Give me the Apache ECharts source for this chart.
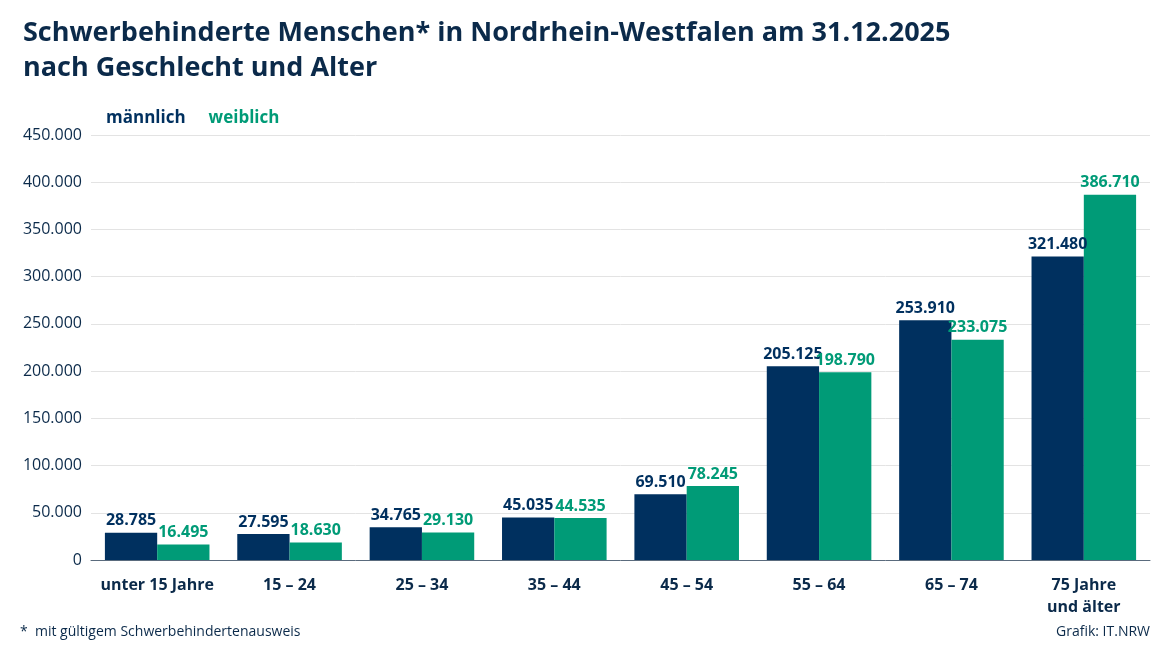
<!DOCTYPE html>
<html><head><meta charset="utf-8">
<script src="https://cdn.jsdelivr.net/npm/echarts@6/dist/echarts.min.js"></script>
<style>html,body{margin:0;background:#fff}#c{width:1170px;height:658px}</style>
</head><body><div id="c"></div>
<script>
// Schwerbehinderte Menschen NRW nach Geschlecht und Alter
const CATS = ["unter 15 Jahre", "15 – 24", "25 – 34", "35 – 44", "45 – 54", "55 – 64", "65 – 74", "75 Jahre\nund älter"];
const MALE   = [28785, 27595, 34765, 45035, 69510, 205125, 253910, 321480];
const FEMALE = [16495, 18630, 29130, 44535, 78245, 198790, 233075, 386710];
const NAVY = "#00305f", GREEN = "#009b77", TXT = "#0b2a4a";
const FONT = "'Open Sans', 'Noto Sans', sans-serif";

const fmt = v => String(v).replace(/\B(?=(\d{3})+(?!\d))/g, ".");

const chart = echarts.init(document.getElementById("c"));
chart.setOption({
  animation: false,
  textStyle: { fontFamily: FONT },
  title: {
    text: "Schwerbehinderte Menschen* in Nordrhein-Westfalen am 31.12.2025\nnach Geschlecht und Alter",
    left: 18, top: 11,
    textStyle: { color: TXT, fontSize: 27, fontWeight: "bold", lineHeight: 35, fontFamily: FONT },
  },
  legend: {
    left: 96, top: 105, icon: "none", itemWidth: 0, itemGap: 18,
    data: [
      { name: "männlich", textStyle: { color: NAVY } },
      { name: "weiblich", textStyle: { color: GREEN } },
    ],
    textStyle: { fontSize: 17, fontWeight: "bold", fontFamily: FONT },
  },
  grid: { left: 91, right: 20, top: 135, bottom: 98 },
  xAxis: {
    type: "category", data: CATS,
    axisLine: { lineStyle: { color: "#5a6b7d" } }, axisTick: { show: false },
    axisLabel: { interval: 0, color: TXT, fontSize: 16, fontWeight: "bold", margin: 14, lineHeight: 22, fontFamily: FONT },
  },
  yAxis: {
    type: "value", min: 0, max: 450000, interval: 50000,
    axisLabel: { color: TXT, fontSize: 16, margin: 9, formatter: fmt, fontFamily: FONT },
    axisLine: { show: false }, axisTick: { show: false },
    splitLine: { lineStyle: { color: "#e3e3e3" } },
  },
  series: [
    { name: "männlich", type: "bar", data: MALE, barGap: "0%", barCategoryGap: "21%",
      itemStyle: { color: NAVY },
      label: { show: true, position: "top", distance: 4, color: NAVY, fontSize: 16, fontWeight: "bold", formatter: p => fmt(p.value), fontFamily: FONT } },
    { name: "weiblich", type: "bar", data: FEMALE,
      itemStyle: { color: GREEN },
      label: { show: true, position: "top", distance: 4, color: GREEN, fontSize: 16, fontWeight: "bold", formatter: p => fmt(p.value), fontFamily: FONT } },
  ],
  graphic: [
    { type: "text", left: 20, top: 625, style: { text: "*  mit gültigem Schwerbehindertenausweis", fill: TXT, fontSize: 14, fontFamily: FONT } },
    { type: "text", right: 20, top: 625, style: { text: "Grafik: IT.NRW", fill: TXT, fontSize: 14, fontFamily: FONT } },
  ],
});
</script></body></html>
